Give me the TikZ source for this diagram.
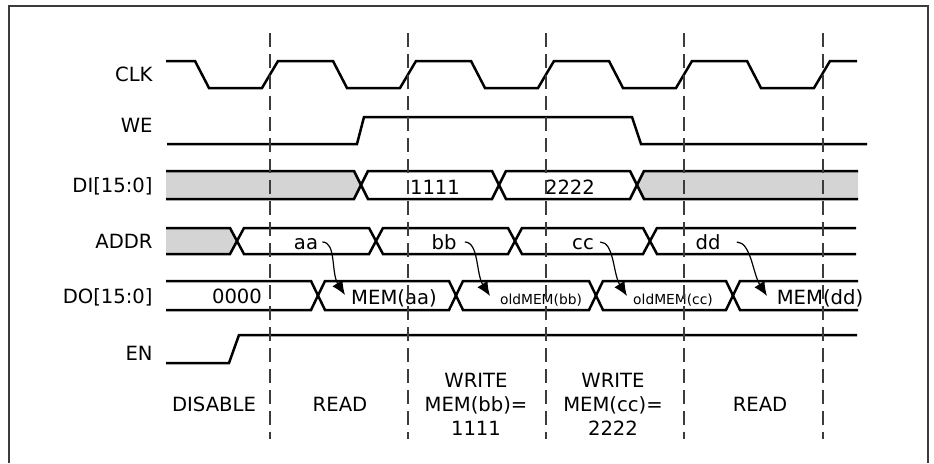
\documentclass[tikz,border=0pt]{standalone}
\usepackage{fontspec}
\setmainfont{DejaVu Sans}
\usepackage{xcolor}
\usetikzlibrary{arrows.meta,positioning,calc}
\definecolor{busgray}{RGB}{212,212,212}
\definecolor{gridgray}{RGB}{60,60,60}
% one bus value between two crossings: fill, left, right, top, bottom
\newcommand{\busseg}[5][white]{%
  \draw[wave,fill=#1] (#2,{(#4+#5)/2}) -- ({#2+7},#4) -- ({#3-7},#4) -- (#3,{(#4+#5)/2})
    -- ({#3-7},#5) -- ({#2+7},#5) -- cycle;}
% first value, open on the left
\newcommand{\busfirst}[4][white]{%
  \fill[#1] (166,#3) -- ({#2-7},#3) -- (#2,{(#3+#4)/2}) -- ({#2-7},#4) -- (166,#4) -- cycle;
  \draw[wave] (166,#3) -- ({#2-7},#3) -- (#2,{(#3+#4)/2}) -- ({#2-7},#4) -- (166,#4);}
% last value, open on the right
\newcommand{\buslast}[5][white]{%
  \fill[#1] (#3,#4) -- ({#2+7},#4) -- (#2,{(#4+#5)/2}) -- ({#2+7},#5) -- (#3,#5) -- cycle;
  \draw[wave] (#3,#4) -- ({#2+7},#4) -- (#2,{(#4+#5)/2}) -- ({#2+7},#5) -- (#3,#5);}

\begin{document}
\begin{tikzpicture}[x=0.5pt,y=-0.5pt,>=Latex,
    font=\fontsize{9.8}{12}\selectfont,
    wave/.style={line width=1.25pt,line join=miter},
    grid/.style={gridgray,line width=0.7pt,dash pattern=on 7pt off 3.5pt},
    lbl/.style={anchor=east,inner sep=0pt,text height=0.73em,text depth=0pt},
    val/.style={inner sep=0pt,text height=0.73em,text depth=0pt},
    smallval/.style={val,font=\fontsize{6.9}{8}\selectfont},
    flow/.style={-{Latex[length=7pt,width=6pt]},line width=0.6pt}]
  \useasboundingbox (0,0) rectangle (934,463);
  \draw[gridgray,line width=0.7pt] (9,463) -- (9,6) -- (928,6) -- (928,463);

  % signal names
  \node[lbl] (clk) at (153,74) {CLK};
  \node[lbl] (we) at (153,125) {WE};
  \node[lbl] (di) at (153,185) {DI[15:0]};
  \node[lbl] (addr) at (153,241) {ADDR};
  \node[lbl] (do) at (153,296) {DO[15:0]};
  \node[lbl] (en) at (153,353) {EN};

  % clock, write enable, enable
  \draw[wave] (166,61) foreach \k in {0,...,4} {
      -- ({195+138*\k},61) -- ({209+138*\k},88) -- ({262+138*\k},88) -- ({278+138*\k},61)}
    -- (857,61);
  \draw[wave] (167,144) -- (357,144) -- (364,117) -- (632,117) -- (641,144) -- (867,144);
  \draw[wave] (166,363) -- (229,363) -- (239,335) -- (857,335);

  % buses
  \busfirst[busgray]{361}{171}{199}
  \busseg{361}{499}{171}{199}
  \busseg{499}{637}{171}{199}
  \buslast[busgray]{637}{858}{171}{199}
  \busfirst[busgray]{237}{228}{254}
  \busseg{237}{376}{228}{254}
  \busseg{376}{515}{228}{254}
  \busseg{515}{650}{228}{254}
  \buslast{650}{856}{228}{254}
  \busfirst{318}{281}{310}
  \busseg{318}{456}{281}{310}
  \busseg{456}{596}{281}{310}
  \busseg{596}{733}{281}{310}
  \buslast{733}{858}{281}{310}

  \node[val] (d1) at (435,187) {1111};
  \node[val] (d2) at (570,187) {2222};
  \node[val] (aa) at (306,242) {aa};
  \node[val] (bb) at (444,242) {bb};
  \node[val] (cc) at (583,242) {cc};
  \node[val] (dd) at (708,242) {dd};
  \node[val] (q0) at (237,296) {0000};
  \node[val] (qa) at (394,297) {MEM(aa)};
  \node[smallval] (qb) at (541,297) {oldMEM(bb)};
  \node[smallval] (qc) at (673,297) {oldMEM(cc)};
  \node[val] (qd) at (820,297) {MEM(dd)};

  % address to data out
  \coordinate (taa) at (345,295);
  \coordinate (tbb) at (490,296);
  \coordinate (tcc) at (627,296);
  \coordinate (tdd) at (767,296);
  \foreach \s/\t/\g in {aa/taa/2pt,bb/tbb/4pt,cc/tcc/3pt,dd/tdd/8pt}
    \draw[flow] ([xshift=\g]\s.east) .. controls +(14,0) and +(-14,-22) .. (\t);

  % phases
  \node[val] (dis) at (214,404) {DISABLE};
  \node[val] (rd1) at (340,404) {READ};
  \node[align=center] (wr1) at (476,404) {WRITE\\MEM(bb)=\\1111};
  \node[align=center] (wr2) at (613,404) {WRITE\\MEM(cc)=\\2222};
  \node[val] (rd2) at (760,404) {READ};

  \foreach \x in {270,408,546,684,823}
    \draw[grid] (\x,33) -- (\x,439);
\end{tikzpicture}
\end{document}
